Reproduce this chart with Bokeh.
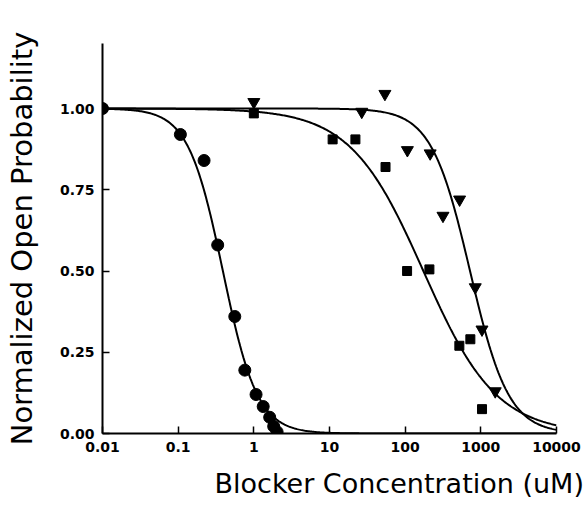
import numpy as np
from bokeh.plotting import figure
from bokeh.models import FixedTicker, Range1d, Title
from bokeh.embed import file_html
from bokeh.resources import INLINE

# --- data ---
circ_x = [0.01, 0.107, 0.22, 0.333, 0.56, 0.76, 1.07, 1.33, 1.62, 1.83, 2.03]
circ_y = [1.00, 0.92, 0.84, 0.58, 0.36, 0.195, 0.12, 0.083, 0.05, 0.022, 0.005]

sq_x = [1.0, 11, 22, 55, 106, 209, 520, 727, 1037]
sq_y = [0.985, 0.905, 0.905, 0.82, 0.50, 0.505, 0.27, 0.29, 0.075]

tri_x = [1.0, 26.7, 54, 107, 214, 316, 524, 844, 1036, 1550]
tri_y = [1.02, 0.99, 1.045, 0.872, 0.862, 0.67, 0.72, 0.45, 0.32, 0.13]

# Hill-fit parameters (IC50, Hill coefficient) of the drawn curves
circ_fit = (0.39, 1.9)
sq_fit = (174.0, 0.9)
tri_fit = (720.0, 1.7)

x_ticks = [0.01, 0.1, 1, 10, 100, 1000, 10000]
x_tick_labels = ["0.01", "0.1", "1", "10", "100", "1000", "10000"]
y_ticks = [0.0, 0.25, 0.5, 0.75, 1.0]
y_tick_labels = ["0.00", "0.25", "0.50", "0.75", "1.00"]

x_title = "Blocker Concentration (uM)"
y_title = "Normalized Open Probability"


def hill(x, ic50, n):
    return 1.0 / (1.0 + (x / ic50) ** n)


p = figure(width=587, height=512, x_axis_type="log",
           x_range=Range1d(0.01, 10000), y_range=Range1d(0, 1.2),
           output_backend="svg", toolbar_location=None,
           min_border_left=102, min_border_right=31,
           min_border_top=43, min_border_bottom=79)
p.outline_line_color = None
p.xgrid.grid_line_color = None
p.ygrid.grid_line_color = None
p.background_fill_color = "white"
p.border_fill_color = "white"

xc = np.logspace(-2, 4, 400)
for ic, n in (circ_fit, sq_fit, tri_fit):
    p.line(xc, hill(xc, ic, n), line_color="black", line_width=2)

p.scatter(circ_x, circ_y, marker="circle", size=12, color="black")
p.scatter(sq_x, sq_y, marker="square", size=9, color="black")
p.scatter(tri_x, tri_y, marker="inverted_triangle", size=12, color="black")

for ax in (p.xaxis[0], p.yaxis[0]):
    ax.axis_line_width = 2
    ax.axis_line_color = "black"
    ax.major_tick_in = 7
    ax.major_tick_out = 0
    ax.major_tick_line_width = 1.5
    ax.minor_tick_line_color = None
    ax.major_label_text_font = "DejaVu Sans"
    ax.major_label_text_font_style = "bold"
    ax.major_label_text_font_size = "14px"
    ax.major_label_text_color = "black"
    ax.major_label_standoff = 8

p.xaxis.ticker = FixedTicker(ticks=x_ticks)
p.xaxis.major_label_overrides = {t: l for t, l in zip(x_ticks, x_tick_labels)}
p.yaxis.ticker = FixedTicker(ticks=y_ticks)
p.yaxis.major_label_overrides = {t: l for t, l in zip(y_ticks, y_tick_labels)}

yax = p.yaxis[0]
yax.axis_label = y_title
yax.axis_label_text_font = "DejaVu Sans"
yax.axis_label_text_font_style = "normal"
yax.axis_label_text_font_size = "29px"
yax.axis_label_text_color = "black"
yax.axis_label_standoff = 18

xt = Title(text=x_title, align="left", offset=112, standoff=23,
           text_font="DejaVu Sans", text_font_style="normal",
           text_font_size="27px", text_color="black")
p.add_layout(xt, "below")

open("out.html", "w").write(file_html(p, INLINE))
